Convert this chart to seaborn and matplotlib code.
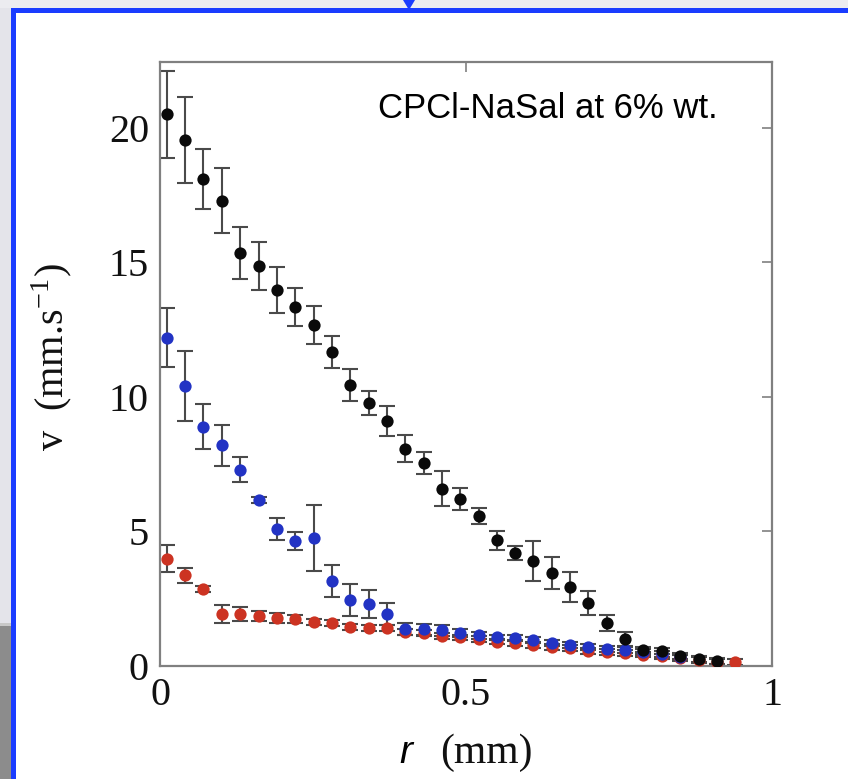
import numpy as np
import pandas as pd
import matplotlib
matplotlib.use("Agg")
import matplotlib.pyplot as plt
import seaborn as sns
from matplotlib.patches import Rectangle, Polygon

# ---------------- data ----------------
r_mm = [0.011, 0.041, 0.071, 0.101, 0.131, 0.161, 0.191, 0.221, 0.251, 0.281,
        0.311, 0.341, 0.371, 0.401, 0.431, 0.461, 0.491, 0.521, 0.551, 0.580,
        0.610, 0.640, 0.670, 0.700, 0.730, 0.760, 0.790, 0.820, 0.850, 0.880,
        0.910, 0.940]

v_black = [20.5, 19.55, 18.1, 17.3, 15.35, 14.87, 13.98, 13.35, 12.68, 11.68,
           10.45, 9.78, 9.1, 8.07, 7.55, 6.58, 6.2, 5.58, 4.68, 4.2,
           3.9, 3.46, 2.94, 2.34, 1.6, 1.0, 0.6, 0.56, 0.37, 0.26, 0.19]
e_black = [1.6, 1.6, 1.1, 1.2, 0.95, 0.9, 0.85, 0.7, 0.7, 0.6,
           0.6, 0.45, 0.55, 0.5, 0.4, 0.65, 0.4, 0.3, 0.35, 0.27,
           0.75, 0.6, 0.55, 0.45, 0.3, 0.25, 0.1, 0.1, 0.1, 0.1, 0.1]

v_blue = [12.2, 10.4, 8.9, 8.2, 7.3, 6.17, 5.1, 4.65, 4.75, 3.16,
          2.45, 2.3, 1.93, 1.37, 1.37, 1.33, 1.24, 1.14, 1.07, 1.04,
          0.97, 0.85, 0.78, 0.71, 0.63, 0.6, 0.52, 0.45, 0.32]
e_blue = [1.1, 1.3, 0.83, 0.77, 0.45, 0.1, 0.4, 0.33, 1.22, 0.58,
          0.6, 0.52, 0.4, 0.23, 0.2, 0.2, 0.15, 0.12, 0.1, 0.1,
          0.1, 0.1, 0.1, 0.1, 0.1, 0.1, 0.1, 0.1, 0.1]

v_red = [3.98, 3.38, 2.86, 1.93, 1.93, 1.86, 1.78, 1.75, 1.64, 1.6,
         1.45, 1.41, 1.41, 1.26, 1.23, 1.12, 1.07, 1.0, 0.9, 0.85,
         0.78, 0.71, 0.67, 0.56, 0.52, 0.48, 0.42, 0.36, 0.3, 0.22,
         0.16, 0.15]
e_red = [0.5, 0.28, 0.1, 0.35, 0.25, 0.2, 0.2, 0.15, 0.12, 0.1,
         0.1, 0.1, 0.1, 0.1, 0.1, 0.1, 0.1, 0.1, 0.1, 0.1,
         0.1, 0.1, 0.1, 0.1, 0.1, 0.1, 0.1, 0.1, 0.1, 0.1,
         0.1, 0.1]

series = {"red": (v_red, e_red), "blue": (v_blue, e_blue), "black": (v_black, e_black)}
colors = {"red": "#cc3322", "blue": "#2233c4", "black": "#0a0a0a"}

x_ticks = [0, 0.5, 1]
x_ticklabels = ["0", "0.5", "1"]
y_ticks = [0, 5, 10, 15, 20]
y_ticklabels = ["0", "5", "10", "15", "20"]

rows = []
for name, (vals, errs) in series.items():
    for i, (v, e) in enumerate(zip(vals, errs)):
        rows.append({"r": r_mm[i], "v": v, "err": e, "series": name})
df = pd.DataFrame(rows)

# ---------------- figure ----------------
sns.set_style("white")
plt.rcParams["font.family"] = ["Liberation Serif", "DejaVu Serif"]
plt.rcParams["mathtext.fontset"] = "stix"

W, H = 848, 779
fig = plt.figure(figsize=(W / 100, H / 100), dpi=100)
fig.patch.set_facecolor("white")


def rect(x0, y0, x1, y1, c):
    fig.patches.append(Rectangle((x0 / W, 1 - y1 / H), (x1 - x0) / W, (y1 - y0) / H,
                                 transform=fig.transFigure, facecolor=c,
                                 edgecolor="none", zorder=0))


# surrounding screenshot frame
rect(0, 0, W, 8, "#ececf0")
rect(0, 8, 11, 623, "#e4e4ea")
rect(0, 623, 11, 626, "#c8c8c8")
rect(0, 626, 11, H, "#8c8c8c")
rect(11, 8, W, 13, "#1a3cff")
rect(11, 8, 16, H, "#1a3cff")
fig.patches.append(Polygon([(403 / W, 1.0), (415 / W, 1.0), (409 / W, 1 - 10 / H)],
                           closed=True, transform=fig.transFigure,
                           facecolor="#1a3cff", edgecolor="none", zorder=0))

ax = fig.add_axes([160 / W, 1 - 666 / H, 612 / W, 604 / H])

for name in ["red", "blue", "black"]:
    sub = df[df["series"] == name]
    ax.errorbar(sub["r"], sub["v"], yerr=sub["err"], fmt="none",
                ecolor="#4a4a4a", elinewidth=1.5, capsize=6, capthick=1.5,
                zorder=2)
    sns.scatterplot(data=sub, x="r", y="v", color=colors[name], s=78,
                    linewidth=0, ax=ax, zorder=3, legend=False)

ax.set_xlim(0, 1)
ax.set_ylim(0, 22.45)
ax.set_xticks(x_ticks)
ax.set_xticklabels(x_ticklabels)
ax.set_yticks(y_ticks)
ax.set_yticklabels(y_ticklabels)
ax.set_xlabel("")
ax.set_ylabel("")
ax.tick_params(direction="in", length=7, width=1.2, color="#808080",
               top=True, right=True, labelsize=29, pad=8, labelcolor="#111111")
for sp in ax.spines.values():
    sp.set_color("#808080")
    sp.set_linewidth(1.6)
    sp.set_visible(True)

fig.text(378 / W, 1 - 118 / H, "CPCl-NaSal at 6% wt.", family=["Liberation Sans", "DejaVu Sans"],
         fontsize=25, ha="left", va="baseline", color="black")

fig.text(52 / W, 1 - 357 / H, r"v  (mm.s$^{\mathregular{-1}}$)", rotation=90,
         fontsize=29, ha="center", va="center", color="#111111")
fig.text(406 / W, 1 - 753 / H, "r", family=["Liberation Sans", "DejaVu Sans"],
         fontstyle="italic", fontsize=28, ha="center", va="center", color="black")
fig.text(486 / W, 1 - 753 / H, "(mm)", fontsize=30, ha="center", va="center",
         color="#111111")

fig.savefig("out.png", dpi=100)
